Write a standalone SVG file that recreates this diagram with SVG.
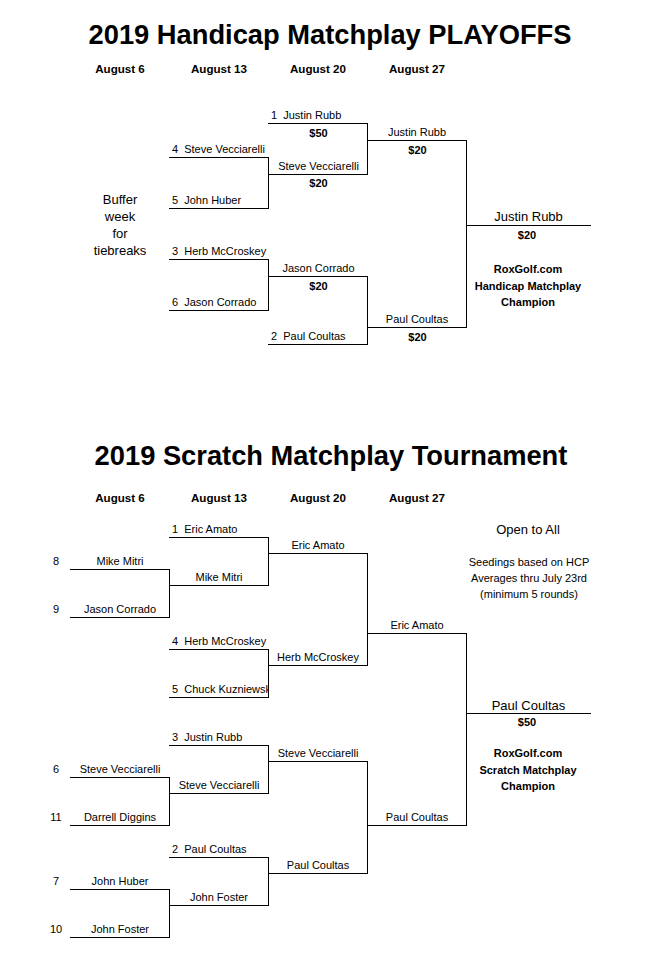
<svg xmlns="http://www.w3.org/2000/svg" width="645" height="957" viewBox="0 0 645 957">
<style>
text{font-family:"Liberation Sans",Arial,sans-serif;fill:#000;white-space:pre}
.t{font-size:27.3px;font-weight:bold;text-anchor:middle}
.d{font-size:11.6px;font-weight:bold;text-anchor:middle}
.n{font-size:11px}
.c{font-size:11px;text-anchor:middle}
.b{font-size:11px;font-weight:bold;text-anchor:middle}
.l{font-size:13px;text-anchor:middle}
.ln{stroke:#000;stroke-width:1;fill:none}
</style>
<defs>
<clipPath id="clipChuck"><rect x="160" y="680" width="108.5" height="20"/></clipPath>
</defs>
<rect width="645" height="957" fill="#fff"/>

<!-- ===== Handicap ===== -->
<g id="hc-title">
<text class="t" x="330" y="44">2019 Handicap Matchplay PLAYOFFS</text>
<text class="d" x="120" y="73">August 6</text>
<text class="d" x="219" y="73">August 13</text>
<text class="d" x="318" y="73">August 20</text>
<text class="d" x="417" y="73">August 27</text>
</g>
<g id="hc-buffer">
<text class="l" x="120" y="204">Buffer</text>
<text class="l" x="120" y="221">week</text>
<text class="l" x="120" y="238">for</text>
<text class="l" x="120" y="255">tiebreaks</text>
</g>
<g id="hc-s1"><text class="n" x="271" y="119">1  Justin Rubb</text><path class="ln" d="M268 123.5H368"/><text class="b" x="318.5" y="137">$50</text></g>
<g id="hc-s4"><text class="n" x="172" y="153">4  Steve Vecciarelli</text><path class="ln" d="M169 157.5H269"/></g>
<g id="hc-s5"><text class="n" x="172" y="204">5  John Huber</text><path class="ln" d="M169 208.5H269"/></g>
<g id="hc-r2a"><text class="c" x="318.5" y="170">Steve Vecciarelli</text><path class="ln" d="M268 174.5H368"/><text class="b" x="318.5" y="187">$20</text></g>
<g id="hc-s3"><text class="n" x="172" y="255">3  Herb McCroskey</text><path class="ln" d="M169 259.5H269"/></g>
<g id="hc-s6"><text class="n" x="172" y="306">6  Jason Corrado</text><path class="ln" d="M169 310.5H269"/></g>
<g id="hc-r2b"><text class="c" x="318.5" y="272">Jason Corrado</text><path class="ln" d="M268 276.5H368"/><text class="b" x="318.5" y="290">$20</text></g>
<g id="hc-s2"><text class="n" x="271" y="340">2  Paul Coultas</text><path class="ln" d="M268 344.5H368"/></g>
<g id="hc-sf1"><text class="c" x="417" y="136">Justin Rubb</text><path class="ln" d="M367 140.5H467"/><text class="b" x="417.5" y="154">$20</text></g>
<g id="hc-sf2"><text class="c" x="417" y="323">Paul Coultas</text><path class="ln" d="M367 327.5H467"/><text class="b" x="417.5" y="341">$20</text></g>
<g id="hc-champ">
<text class="l" x="528.5" y="221">Justin Rubb</text><path class="ln" d="M466 225.5H591"/>
<text class="b" x="527" y="238.5">$20</text>
<text class="b" x="528" y="273">RoxGolf.com</text>
<text class="b" x="528" y="289.5">Handicap Matchplay</text>
<text class="b" x="528" y="306">Champion</text>
</g>

<!-- ===== Scratch ===== -->
<g id="sc-title">
<text class="t" x="331" y="464.5">2019 Scratch Matchplay Tournament</text>
<text class="d" x="120" y="502">August 6</text>
<text class="d" x="219" y="502">August 13</text>
<text class="d" x="318" y="502">August 20</text>
<text class="d" x="417" y="502">August 27</text>
</g>
<g id="sc-info">
<text class="l" x="528" y="533.5">Open to All</text>
<text class="c" x="529" y="565.5">Seedings based on HCP</text>
<text class="c" x="529" y="581.5">Averages thru July 23rd</text>
<text class="c" x="529" y="597.5">(minimum 5 rounds)</text>
</g>
<g id="sc-s1"><text class="n" x="172" y="533">1  Eric Amato</text><path class="ln" d="M169 537.5H269"/></g>
<g id="sc-s8"><text class="c" x="56" y="565">8</text><text class="c" x="120" y="565">Mike Mitri</text><path class="ln" d="M70 569.5H170"/></g>
<g id="sc-s9"><text class="c" x="56" y="613">9</text><text class="c" x="120" y="613">Jason Corrado</text><path class="ln" d="M70 617.5H170"/></g>
<g id="sc-r1a"><text class="c" x="219" y="581">Mike Mitri</text><path class="ln" d="M169 585.5H269"/></g>
<g id="sc-r2a"><text class="c" x="318" y="549">Eric Amato</text><path class="ln" d="M268 553.5H368"/></g>
<g id="sc-s4"><text class="n" x="172" y="645">4  Herb McCroskey</text><path class="ln" d="M169 649.5H269"/></g>
<g id="sc-s5"><text class="n" x="172" y="693" clip-path="url(#clipChuck)">5  Chuck Kuzniewski</text><path class="ln" d="M169 697.5H269"/></g>
<g id="sc-r2b"><text class="c" x="318" y="661">Herb McCroskey</text><path class="ln" d="M268 665.5H368"/></g>
<g id="sc-sf1"><text class="c" x="417" y="629">Eric Amato</text><path class="ln" d="M367 633.5H467"/></g>
<g id="sc-s3"><text class="n" x="172" y="741">3  Justin Rubb</text><path class="ln" d="M169 745.5H269"/></g>
<g id="sc-s6"><text class="c" x="56" y="773">6</text><text class="c" x="120" y="773">Steve Vecciarelli</text><path class="ln" d="M70 777.5H170"/></g>
<g id="sc-s11"><text class="c" x="56" y="821">11</text><text class="c" x="120" y="821">Darrell Diggins</text><path class="ln" d="M70 825.5H170"/></g>
<g id="sc-r1c"><text class="c" x="219" y="789">Steve Vecciarelli</text><path class="ln" d="M169 793.5H269"/></g>
<g id="sc-r2c"><text class="c" x="318" y="757">Steve Vecciarelli</text><path class="ln" d="M268 761.5H368"/></g>
<g id="sc-s2"><text class="n" x="172" y="853">2  Paul Coultas</text><path class="ln" d="M169 857.5H269"/></g>
<g id="sc-s7"><text class="c" x="56" y="885">7</text><text class="c" x="120" y="885">John Huber</text><path class="ln" d="M70 889.5H170"/></g>
<g id="sc-s10"><text class="c" x="56" y="933">10</text><text class="c" x="120" y="933">John Foster</text><path class="ln" d="M70 937.5H170"/></g>
<g id="sc-r1d"><text class="c" x="219" y="901">John Foster</text><path class="ln" d="M169 905.5H269"/></g>
<g id="sc-r2d"><text class="c" x="318" y="869">Paul Coultas</text><path class="ln" d="M268 873.5H368"/></g>
<g id="sc-sf2"><text class="c" x="417" y="821">Paul Coultas</text><path class="ln" d="M367 825.5H467"/></g>
<g id="sc-champ">
<text class="l" x="528.5" y="710">Paul Coultas</text><path class="ln" d="M466 713.5H591"/>
<text class="b" x="527" y="725.5">$50</text>
<text class="b" x="528" y="757">RoxGolf.com</text>
<text class="b" x="528" y="773.5">Scratch Matchplay</text>
<text class="b" x="528" y="789.5">Champion</text>
</g>

<g id="connectors" class="ln">
<path class="ln" d="M268.5 157V209M367.5 123V175M268.5 259V311M367.5 276V345M466.5 140V328"/>
<path class="ln" d="M169.5 569V618M169.5 777V826M169.5 889V938M268.5 537V586M268.5 649V698M268.5 745V794M268.5 857V906M367.5 553V666M367.5 761V874M466.5 633V826"/>
</g>
</svg>
